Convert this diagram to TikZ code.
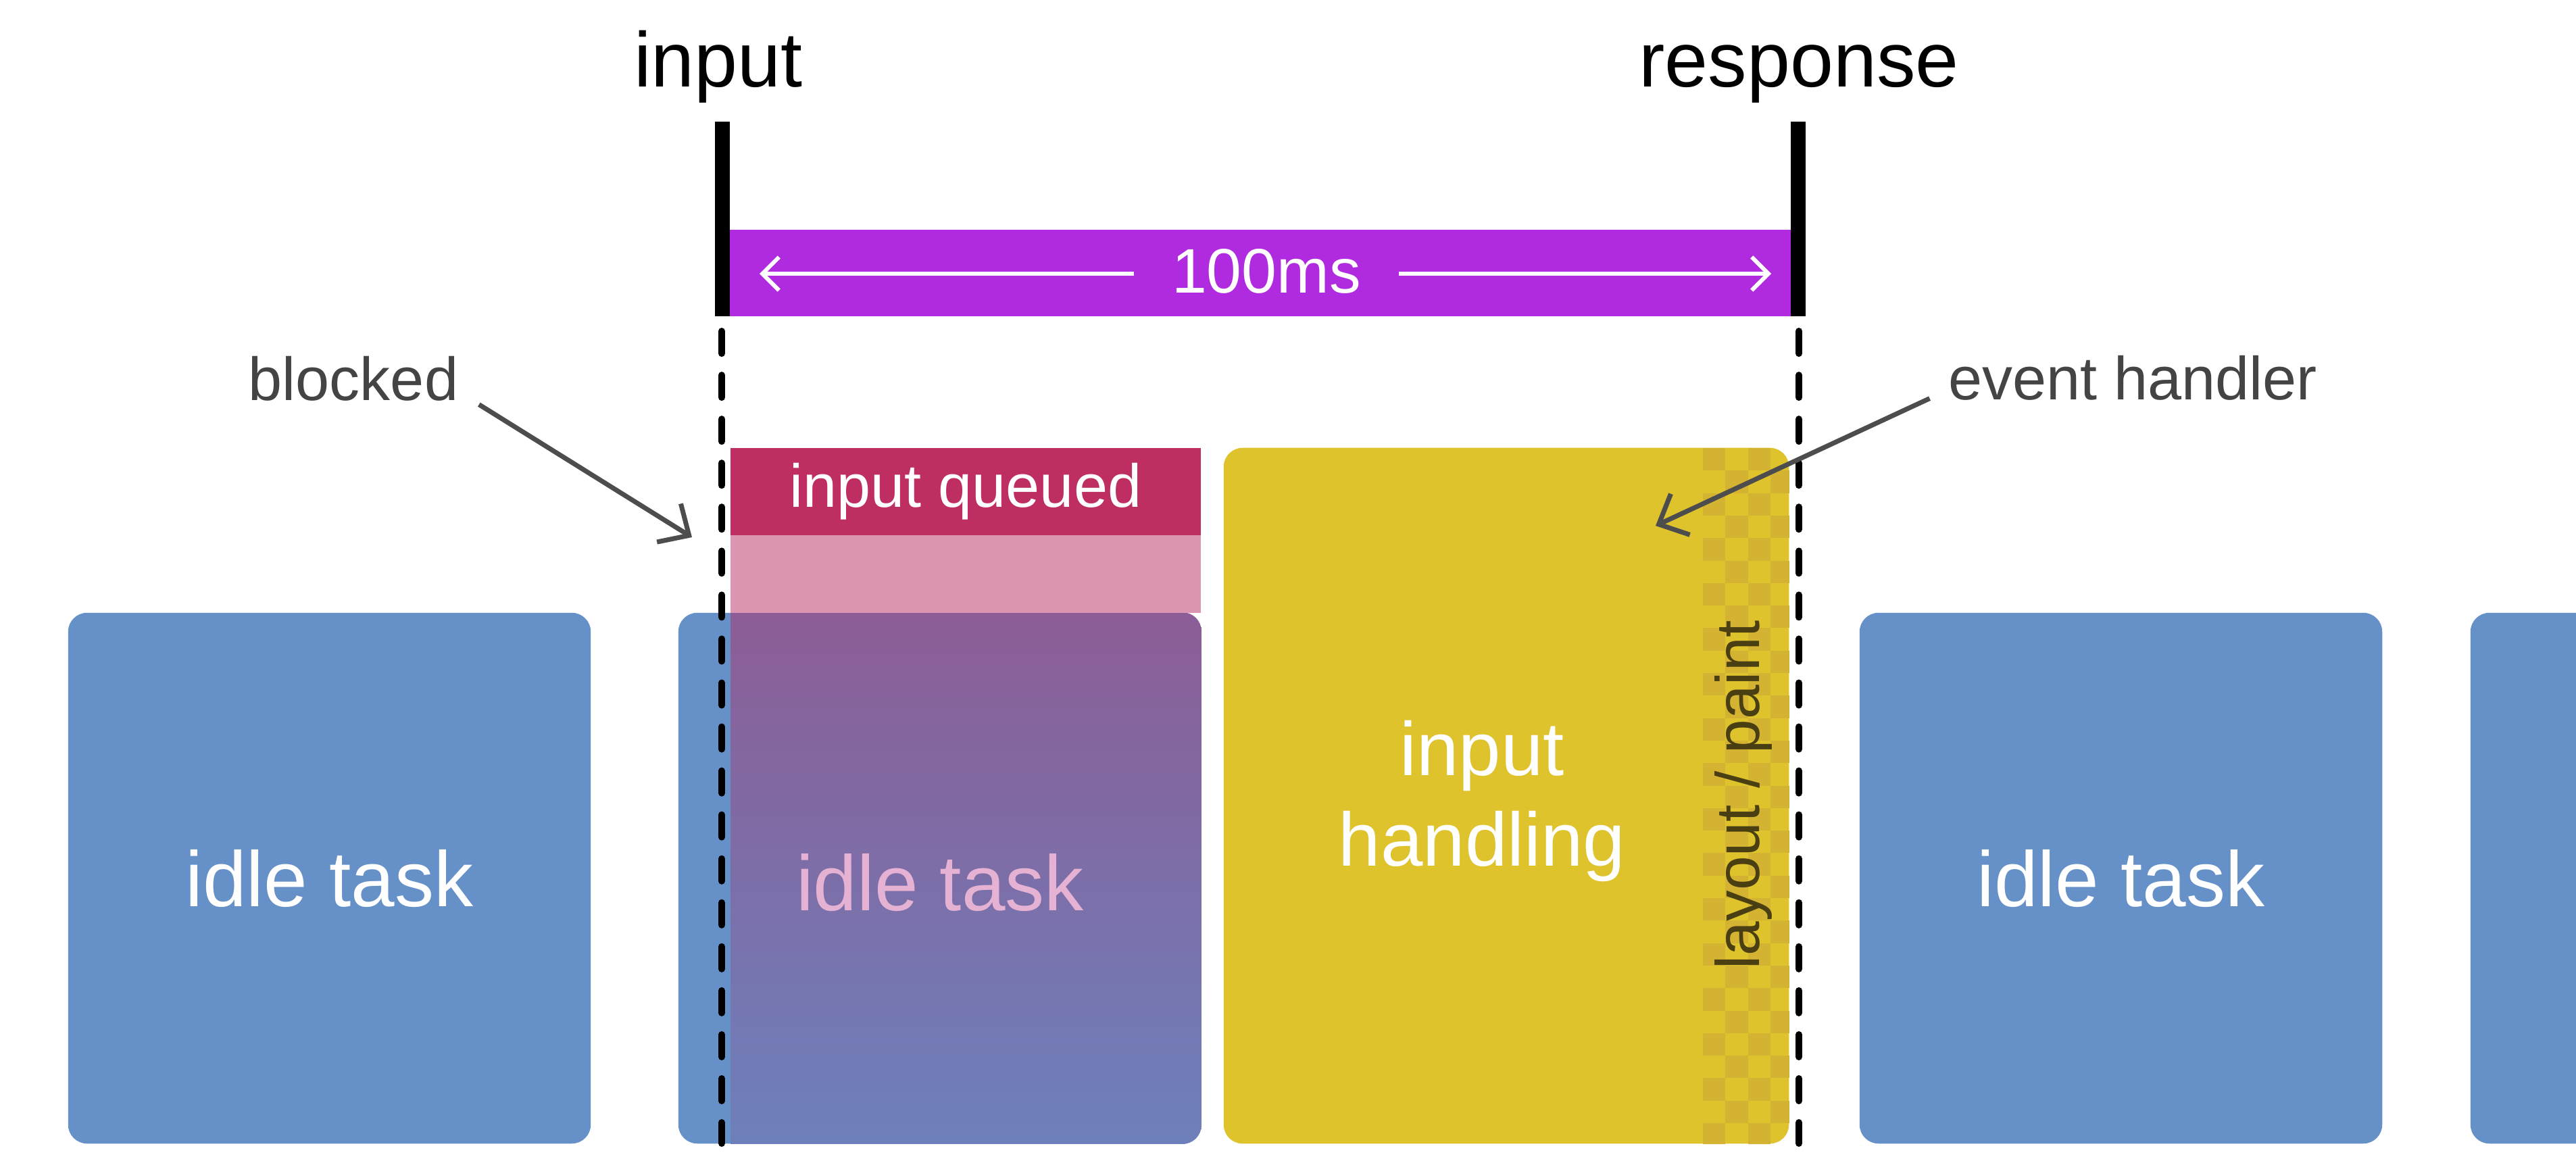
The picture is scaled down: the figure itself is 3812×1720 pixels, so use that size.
\documentclass[tikz,border=0pt]{standalone}
\usepackage{fontspec}
\setmainfont{Liberation Sans}
\usetikzlibrary{arrows.meta}
\definecolor{idleblue}{HTML}{6590C8}
\definecolor{barpurple}{HTML}{B02ADF}
\definecolor{qcrimson}{HTML}{BE2E62}
\definecolor{qpink}{HTML}{DC96B2}
\definecolor{ovtop}{HTML}{8C5D96}
\definecolor{ovbot}{HTML}{6D80BB}
\definecolor{hyellow}{HTML}{DFC32C}
\definecolor{checkdark}{HTML}{D4B232}
\definecolor{lpcolor}{HTML}{4A3F12}
\definecolor{labelgrey}{HTML}{444444}
\definecolor{arrowgrey}{HTML}{4D4D4D}
\definecolor{idlepink}{HTML}{E6B2D3}
\begin{document}
\begin{tikzpicture}[x=0.01cm,y=-0.01cm,
  bigfont/.style={font=\fontsize{32.7pt}{39pt}\selectfont},
  idlefont/.style={font=\fontsize{33pt}{39pt}\selectfont},
  hfont/.style={font=\fontsize{31.9pt}{38pt}\selectfont},
  midfont/.style={font=\fontsize{25.6pt}{30pt}\selectfont},
  msfont/.style={font=\fontsize{26.5pt}{31pt}\selectfont},
  idlebox/.style={fill=idleblue, rounded corners=0.28cm, minimum width=7.73cm,
    minimum height=7.85cm, inner sep=0, text=white, idlefont},
  solidbar/.style={fill=black, minimum width=0.22cm, minimum height=2.88cm, inner sep=0},
  dashline/.style={line width=2.85pt, dash pattern=on 9.4pt off 9.1pt, line cap=round},
  callout/.style={draw=arrowgrey, line width=2pt, -{Straight Barb[length=10pt,width=19pt]}},
  msarrow/.style={draw=white, line width=1.7pt, -{Straight Barb[length=7pt,width=14pt]}},
]
\useasboundingbox (0,0) rectangle (3812,1720);
\clip (0,0) rectangle (3812,1720);
\fill[white] (0,0) rectangle (3812,1720);

% idle tasks
\node[idlebox] (idle1) at (487.5,1299.5) {idle task};
\node[idlebox] (idle2) at (1390.5,1299.5) {};
\node[idlebox] (idle3) at (3138.5,1299.5) {idle task};
\node[idlebox] (idle4) at (4042.5,1299.5) {};

% overlay on blocked idle task
\begin{scope}
  \clip (1081,800) rectangle (1800,1720);
  \shade[top color=ovtop, bottom color=ovbot, rounded corners=0.28cm]
    (idle2.north west) rectangle (idle2.south east);
\end{scope}
\fill[qpink] (1081,792) rectangle (1777,907);
\node[fill=qcrimson, minimum width=6.96cm, minimum height=1.29cm, inner sep=0,
  text=white, midfont] (queued) at (1429,727.5) {input queued};
\node[idlefont, text=idlepink, anchor=base, inner sep=0] (idle2text) at (1391,1347) {idle task};

% input handling
\node[fill=hyellow, rounded corners=0.28cm, minimum width=8.36cm,
  minimum height=10.29cm, inner sep=0] (handling) at (2229,1177.5) {};
\begin{scope}
  \clip[rounded corners=0.28cm] (handling.north west) rectangle (handling.south east);
  \foreach \i in {0,...,3}{
    \foreach \j in {0,...,31}{
      \pgfmathtruncatemacro\odd{mod(\i+\j,2)}
      \ifnum\odd=0
        \fill[checkdark] ({2520+\i*33.3},{663+\j*33.3}) rectangle +(33.3,33.3);
      \fi
    }
  }
\end{scope}
\node[hfont, text=white, anchor=base, inner sep=0] (ih1) at (2193,1147) {input};
\node[hfont, text=white, anchor=base, inner sep=0] (ih2) at (2193,1281) {handling};
\node[font=\fontsize{25.9pt}{30pt}\selectfont, text=lpcolor, rotate=90, inner sep=0]
  (lp) at (2580,1176) {layout / paint};

% input / response markers
\node[bigfont, anchor=base, inner sep=0] (input) at (1063,128) {input};
\node[bigfont, anchor=base, inner sep=0] (response) at (2662,128) {response};
\node[fill=barpurple, minimum width=15.7cm, minimum height=1.28cm, inner sep=0] (bar) at (1865,404) {};
\node[solidbar] (inbar) at (1069,324) {};
\node[solidbar] (resbar) at (2661,324) {};
\node[msfont, text=white, anchor=base, inner sep=0] (ms) at (1874,433) {100ms};
\coordinate (msL) at (1124,405);
\coordinate (msR) at (2621,405);
\draw[msarrow] (ms.west |- msL) ++(-55,0) -- (msL);
\draw[msarrow] (ms.east |- msR) ++(55,0) -- (msR);

% dashed lines
\coordinate (inbottom) at (1068,1692);
\coordinate (resbottom) at (2662,1692);
\draw[dashline] (1068,490) -- (inbottom);
\draw[dashline] (2662,490) -- (resbottom);

% callouts
\node[midfont, text=labelgrey, anchor=base, inner sep=0] (blocked) at (523,592) {blocked};
\coordinate (blockedtip) at (1024,795);
\draw[callout] ([shift={(30,5)}]blocked.south east) -- (blockedtip);
\node[midfont, text=labelgrey, anchor=base, inner sep=0] (event) at (3156,591) {event handler};
\coordinate (eventtip) at (2450,778);
\draw[callout] ([shift={(-27,-3)}]event.south west) -- (eventtip);
\end{tikzpicture}
\end{document}
